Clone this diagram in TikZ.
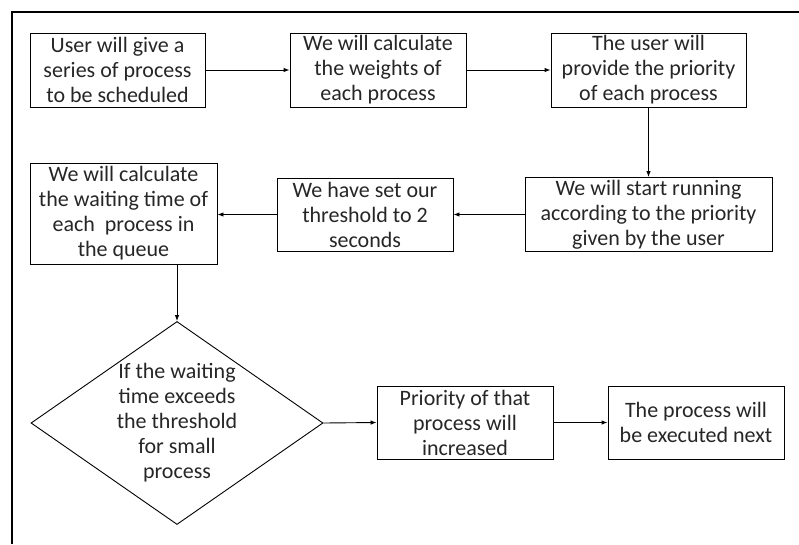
\documentclass[tikz,border=0pt]{standalone}
\usepackage{fontspec}
\setmainfont{Carlito}
\usetikzlibrary{arrows.meta,
                shapes.geometric
            }

\tikzset{
    box/.style={draw, line width=0.9pt, inner sep=0pt, align=center,
                font=\fontsize{22}{25}\selectfont, text=black!85},
    decision/.style={draw, diamond, line width=0.9pt, inner sep=0pt,
                minimum width=292pt, minimum height=203pt},
    flow/.style={-{Latex[length=6pt, width=4.5pt]}, line width=0.9pt}
}

\begin{document}
\begin{tikzpicture}[x=1pt, y=-1pt]
            \useasboundingbox (0, 0) rectangle (799, 544);
            \draw[line width=2pt] (12, 544) -- (12, 12) -- (799, 12);
            \node[box, minimum width=175pt, minimum height=74pt] (give) at (117.5, 70) {User will give a\\series of process\\to be scheduled};
            \node[box, minimum width=176pt, minimum height=74pt] (weights) at (378, 70) {We will calculate\\the weights of\\each process};
            \node[box, minimum width=195pt, minimum height=74pt] (priority) at (648.5, 70) {The user will\\provide the priority\\of each process};
            \node[box, minimum width=247pt, minimum height=74pt] (running) at (648.5, 214.5) {We will start running\\according to the priority\\given by the user};
            \node[box, minimum width=176pt, minimum height=73pt] (threshold) at (365, 214.5) {We have set our\\threshold to 2\\seconds};
            \node[box, minimum width=187pt, minimum height=101pt] (waiting) at (123.5, 213.5) {We will calculate\\the waiting time of\\each~ process in\\the queue};
            \node[decision, label={[box, draw=none]center:If the waiting\\time exceeds\\the threshold\\for small\\process}] (exceeds) at (177, 423) {};
            \node[box, minimum width=176pt, minimum height=73pt] (increase) at (465, 422.5) {Priority of that\\process will\\increased};
            \node[box, minimum width=176pt, minimum height=73pt] (next) at (696, 422.5) {The process will\\be executed next};
            \draw[flow] (give) -- (weights);
            \draw[flow] (weights) -- (priority);
            \draw[flow] (priority) -- (running);
            \draw[flow] (running.west) -- (running.west -| threshold.east);
            \draw[flow] (threshold.west) -- (threshold.west -| waiting.east);
            \draw[flow] (exceeds.north |- waiting.south) -- (exceeds.north);
            \draw[flow] (exceeds.east) -- (increase.west);
            \draw[flow] (increase) -- (next);
        \end{tikzpicture}
\end{document}
